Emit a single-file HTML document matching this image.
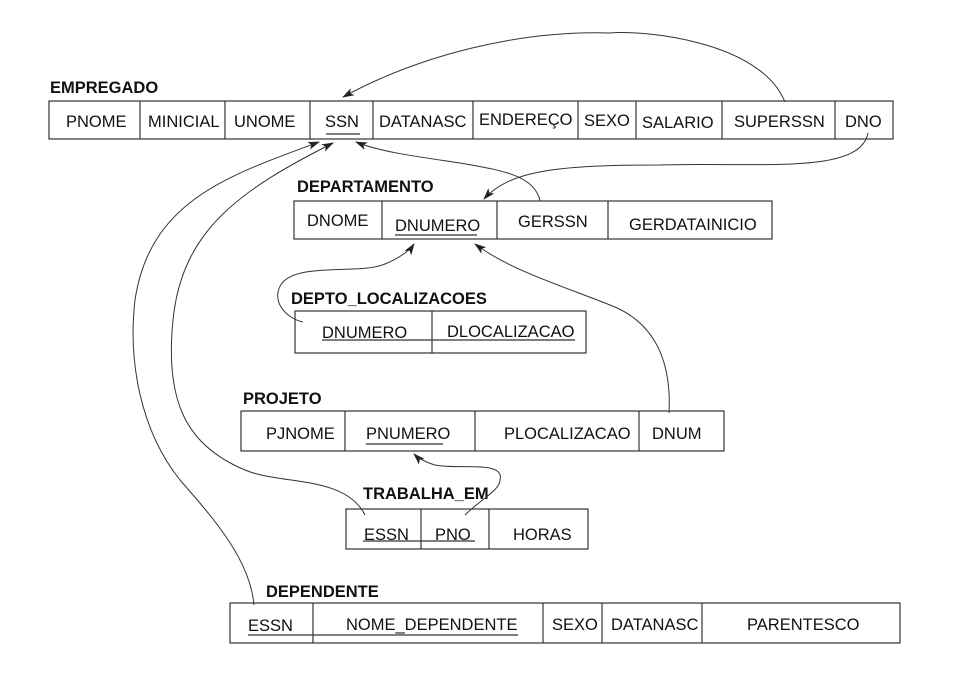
<!DOCTYPE html>
<html><head><meta charset="utf-8"><style>
html,body{margin:0;padding:0;background:#fff;}
svg{display:block;}
text{font-family:"Liberation Sans",Arial,sans-serif;font-size:16.5px;fill:#111;}
.t{font-weight:bold;font-size:16.5px;}
.b{fill:none;stroke:#333;stroke-width:1.2;}
.c{fill:none;stroke:#333;stroke-width:1;}
.u{stroke:#333;stroke-width:1.2;}
</style></head><body>
<svg width="976" height="682" viewBox="0 0 976 682" xmlns="http://www.w3.org/2000/svg">
<defs>
<marker id="a" viewBox="0 0 12 8" refX="11" refY="4" markerWidth="12" markerHeight="8" orient="auto" markerUnits="userSpaceOnUse">
<path d="M0,0 L12,4 L0,8 L3,4 z" fill="#222"/>
</marker>
</defs>

<!-- EMPREGADO -->
<text class="t" x="50" y="93">EMPREGADO</text>
<rect class="b" x="49" y="101" width="844" height="38"/>
<g class="u">
<line x1="140" y1="101" x2="140" y2="139"/><line x1="225" y1="101" x2="225" y2="139"/>
<line x1="310" y1="101" x2="310" y2="139"/><line x1="373" y1="101" x2="373" y2="139"/>
<line x1="473" y1="101" x2="473" y2="139"/><line x1="578" y1="101" x2="578" y2="139"/>
<line x1="636" y1="101" x2="636" y2="139"/><line x1="722" y1="101" x2="722" y2="139"/>
<line x1="835" y1="101" x2="835" y2="139"/>
<line x1="326" y1="134" x2="360" y2="134"/>
</g>
<text x="66" y="127">PNOME</text>
<text x="148" y="127">MINICIAL</text>
<text x="234" y="127">UNOME</text>
<text x="325" y="127">SSN</text>
<text x="379" y="127">DATANASC</text>
<text x="479" y="125">ENDEREÇO</text>
<text x="584" y="126">SEXO</text>
<text x="642" y="128">SALARIO</text>
<text x="734" y="127">SUPERSSN</text>
<text x="845" y="127">DNO</text>

<!-- DEPARTAMENTO -->
<text class="t" x="297" y="192">DEPARTAMENTO</text>
<rect class="b" x="294" y="201" width="478" height="38"/>
<g class="u">
<line x1="382" y1="201" x2="382" y2="239"/><line x1="497" y1="201" x2="497" y2="239"/>
<line x1="608" y1="201" x2="608" y2="239"/>
<line x1="395" y1="235" x2="477" y2="235"/>
</g>
<text x="307" y="226">DNOME</text>
<text x="395" y="231">DNUMERO</text>
<text x="518" y="227">GERSSN</text>
<text x="629" y="230">GERDATAINICIO</text>

<!-- DEPTO_LOCALIZACOES -->
<text class="t" x="291" y="304">DEPTO_LOCALIZACOES</text>
<rect class="b" x="295" y="311" width="291" height="42"/>
<g class="u">
<line x1="432" y1="311" x2="432" y2="353"/>
<line x1="322" y1="340" x2="575" y2="340"/>
</g>
<text x="322" y="338">DNUMERO</text>
<text x="447" y="337">DLOCALIZACAO</text>

<!-- PROJETO -->
<text class="t" x="243" y="404">PROJETO</text>
<rect class="b" x="241" y="411" width="483" height="40"/>
<g class="u">
<line x1="345" y1="411" x2="345" y2="451"/><line x1="475" y1="411" x2="475" y2="451"/>
<line x1="639" y1="411" x2="639" y2="451"/>
<line x1="366" y1="444" x2="443" y2="444"/>
</g>
<text x="266" y="439">PJNOME</text>
<text x="366" y="439">PNUMERO</text>
<text x="504" y="439">PLOCALIZACAO</text>
<text x="652" y="439">DNUM</text>

<!-- TRABALHA_EM -->
<text class="t" x="363" y="499">TRABALHA_EM</text>
<rect class="b" x="346" y="509" width="242" height="40"/>
<g class="u">
<line x1="421" y1="509" x2="421" y2="549"/><line x1="489" y1="509" x2="489" y2="549"/>
<line x1="363" y1="541" x2="475" y2="541"/>
</g>
<text x="364" y="540">ESSN</text>
<text x="435" y="540">PNO</text>
<text x="513" y="540">HORAS</text>

<!-- DEPENDENTE -->
<text class="t" x="266" y="597">DEPENDENTE</text>
<rect class="b" x="230" y="603" width="670" height="40"/>
<g class="u">
<line x1="313" y1="603" x2="313" y2="643"/><line x1="543" y1="603" x2="543" y2="643"/>
<line x1="602" y1="603" x2="602" y2="643"/><line x1="702" y1="603" x2="702" y2="643"/>
<line x1="248" y1="635" x2="518" y2="635"/>
</g>
<text x="248" y="631">ESSN</text>
<text x="346" y="630">NOME_DEPENDENTE</text>
<text x="552" y="630">SEXO</text>
<text x="611" y="630">DATANASC</text>
<text x="747" y="630">PARENTESCO</text>

<!-- connectors -->
<path class="c" marker-end="url(#a)" d="M785,102 C760,40 640,30 610,33 C520,30 420,55 343,97"/>
<path class="c" marker-end="url(#a)" d="M868,133 C860,175 760,162 660,165 C560,165 510,170 484,199"/>
<path class="c" marker-end="url(#a)" d="M540,201 C535,175 500,170 460,163 C420,157 380,152 356,142"/>
<path class="c" marker-end="url(#a)" d="M303,322 C285,318 270,300 282,283 C300,262 360,275 385,264 C400,258 410,250 414,244"/>
<path class="c" marker-end="url(#a)" d="M669,413 C672,355 650,320 610,305 C560,285 510,270 475,244"/>
<path class="c" marker-end="url(#a)" d="M465,515 C480,500 500,490 500,480 C505,460 460,470 435,465 C425,462 418,458 414,454"/>
<path class="c" marker-end="url(#a)" d="M365,515 C345,475 280,485 245,470 C185,445 165,400 173,320 C182,230 240,190 333,143"/>
<path class="c" marker-end="url(#a)" d="M254,605 C250,560 215,520 180,480 C140,430 128,360 135,300 C150,200 230,175 319,142"/>
</svg>
</body></html>
